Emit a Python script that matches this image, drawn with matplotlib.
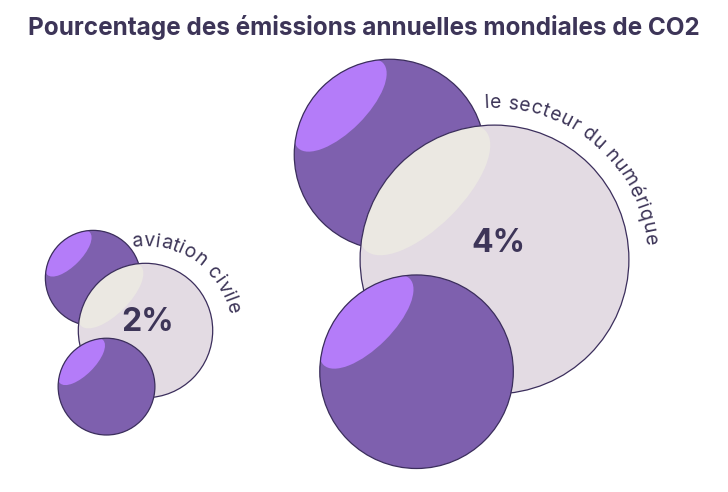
"""Bubble chart: share of annual world CO2 emissions."""

import numpy as np
import matplotlib.pyplot as plt
from matplotlib.patches import Circle, Ellipse
from matplotlib.font_manager import FontProperties

TITLE = "Pourcentage des émissions annuelles mondiales de CO2"
sectors = ["aviation civile", "le secteur du numérique"]
shares = [2, 4]
share_labels = ["2%", "4%"]

# layout (pixel space, y pointing down)
centers = [(145.5, 330.5), (494.5, 259.5)]
px_per_percent = 33.6
label_start_deg = [95.4, 92.8]
label_end_deg = [14.6, 7.2]

DARK = "#7e60ae"
DARK_HI = "#b47cf9"
LIGHT = "#e3dbe3"
LIGHT_HI = "#ebe8e2"
EDGE = "#3b2e5c"
INK = "#3d3558"
FONT = "Inter"

W, H = 728, 492
fig = plt.figure(figsize=(W / 100, H / 100), dpi=100)
ax = fig.add_axes([0, 0, 1, 1])
ax.set_xlim(0, W)
ax.set_ylim(H, 0)
ax.set_aspect("equal")
ax.axis("off")


def sphere(cx, cy, r, face, hi, z):
    body = Circle((cx, cy), r, facecolor=face, edgecolor="none", zorder=z)
    ax.add_patch(body)
    d = 0.73 * r / np.sqrt(2)
    glow = Ellipse((cx - d, cy - d), 1.26 * r, 0.54 * r, angle=-45,
                   facecolor=hi, edgecolor="none", zorder=z + 0.1)
    ax.add_patch(glow)
    glow.set_clip_path(body)
    ax.add_patch(Circle((cx, cy), r, facecolor="none", edgecolor=EDGE,
                        linewidth=0.9, zorder=z + 0.2))


def char_widths(text, prop, renderer):
    widths = []
    for ch in text:
        if ch == " ":
            w = (renderer.get_text_width_height_descent("a a", prop, False)[0]
                 - renderer.get_text_width_height_descent("aa", prop, False)[0])
        else:
            w = renderer.get_text_width_height_descent(ch, prop, False)[0]
        widths.append(w)
    return np.array(widths)


renderer = fig.canvas.get_renderer()
arc_prop = FontProperties(family=FONT, size=14)

for (cx, cy), share, label, sector, a0, a1 in zip(
        centers, shares, share_labels, sectors, label_start_deg, label_end_deg):
    R = share * px_per_percent
    sphere(cx - 0.78 * R, cy - 0.78 * R, 0.71 * R, DARK, DARK_HI, 1)
    sphere(cx, cy, R, LIGHT, LIGHT_HI, 2)
    sphere(cx - 0.58 * R, cy + 0.835 * R, 0.72 * R, DARK, DARK_HI, 3)

    ax.text(cx + 0.03 * R, cy - 0.12 * R, label, ha="center", va="center",
            fontsize=23, fontweight="bold", color=INK, family=FONT, zorder=5)

    # curved sector name around the light bubble
    w = char_widths(sector, arc_prop, renderer)
    mids = np.cumsum(w) - w / 2
    frac = (mids - mids[0]) / (mids[-1] - mids[0])
    rt = R + 22
    for ch, f in zip(sector, frac):
        if ch == " ":
            continue
        th = np.radians(a0 + (a1 - a0) * f)
        x = cx + rt * np.cos(th)
        y = cy - rt * np.sin(th)
        ax.text(x, y, ch, fontproperties=arc_prop, color=INK, ha="center",
                va="center", rotation=np.degrees(th) - 90,
                rotation_mode="anchor", zorder=5)

ax.text(W / 2, 27, TITLE, ha="center", va="center", fontsize=17.5,
        fontweight="bold", color=INK, family=FONT)

fig.savefig("out.png", dpi=100)
